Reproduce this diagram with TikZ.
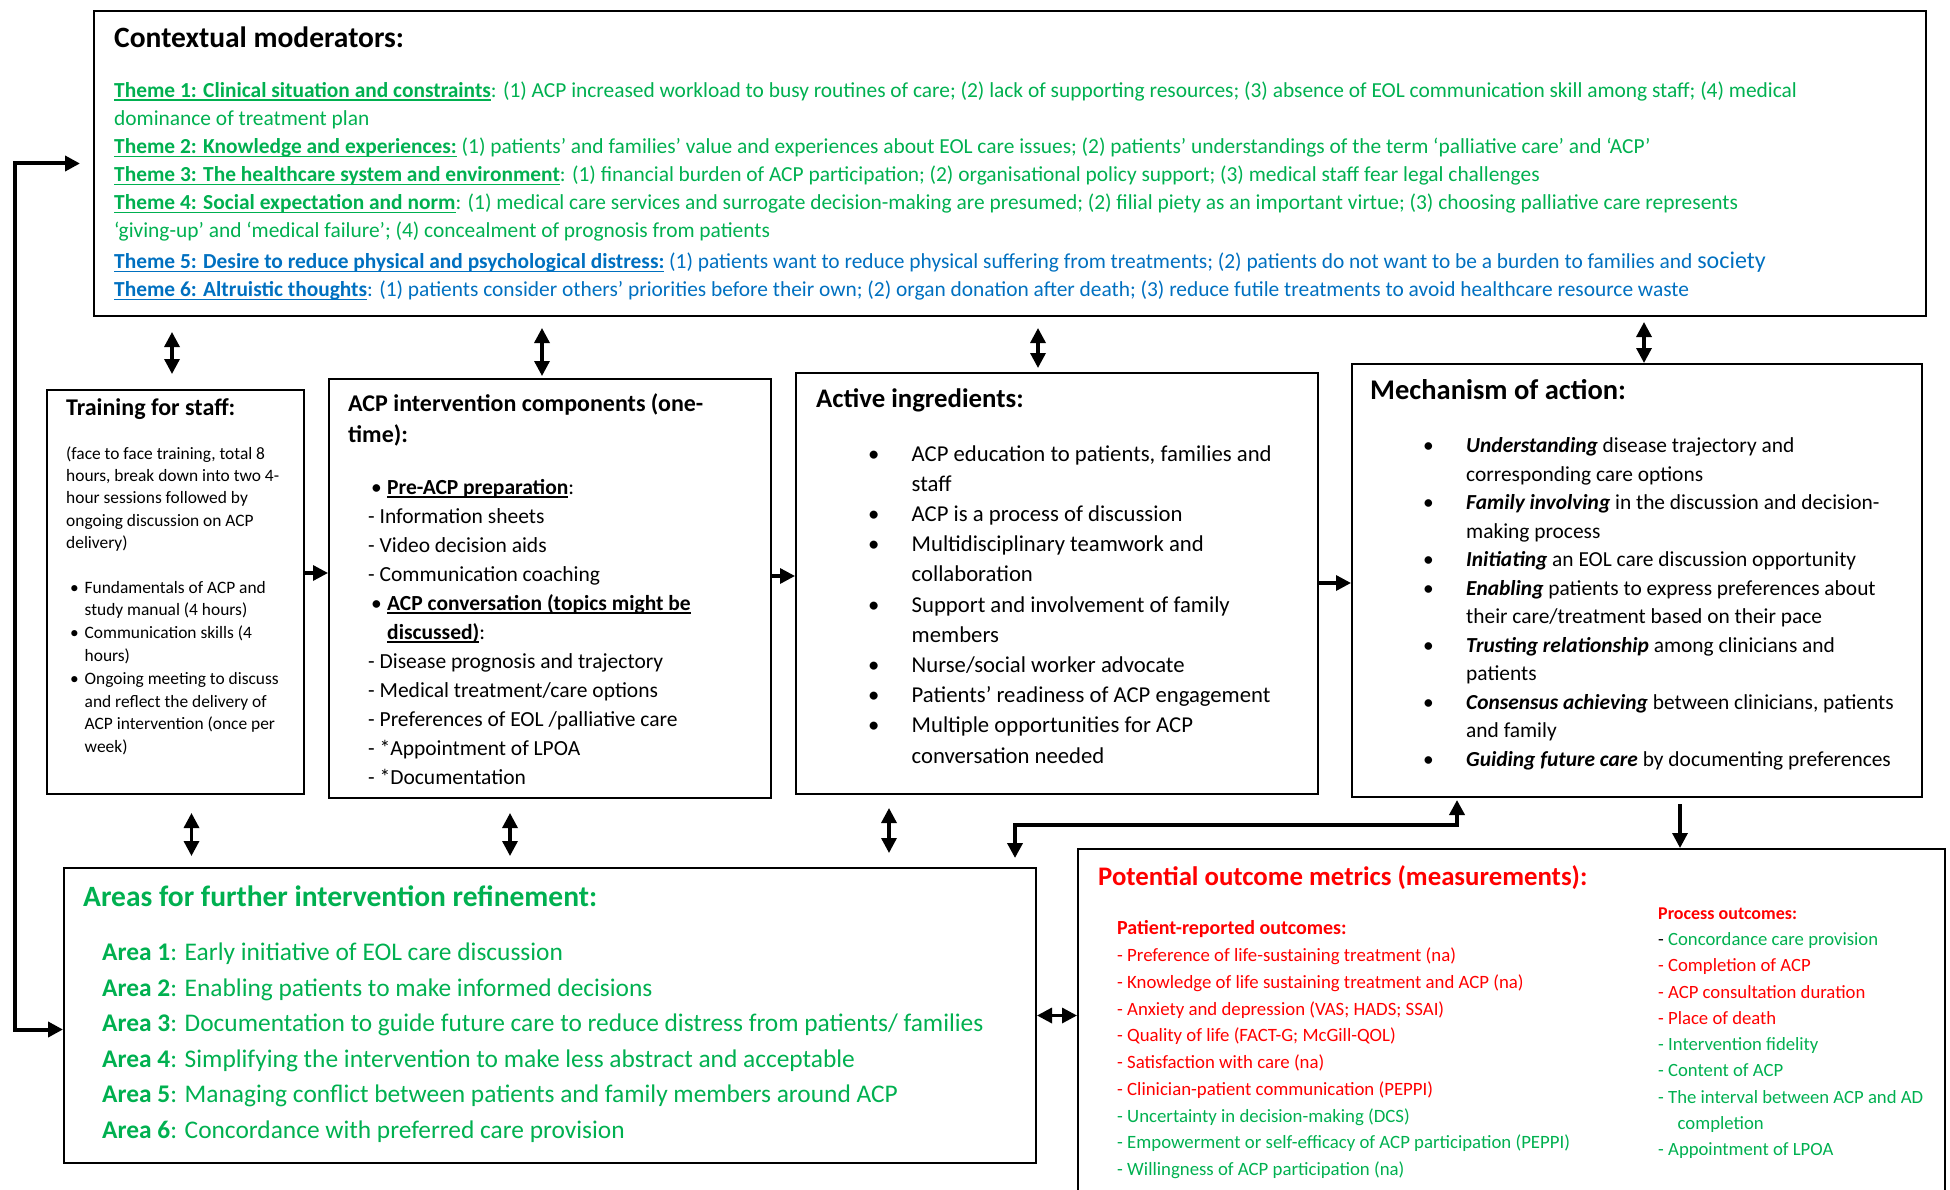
\documentclass[tikz,border=0pt]{standalone}
\usepackage{fontspec}
\setmainfont{Carlito}
\usetikzlibrary{arrows.meta,calc}
\definecolor{thmgreen}{RGB}{0,176,80}
\definecolor{thmblue}{RGB}{0,112,192}
\definecolor{outred}{RGB}{255,0,0}
\newcommand{\fsz}[2]{\fontsize{#1}{#2}\selectfont}
\newcommand{\bul}[1]{\makebox[#1][l]{\textbullet}}
\newcommand{\bi}[1]{\textbf{\textit{#1}}}
\newsavebox{\ulbox}
\newcommand{\ubf}[1]{\sbox{\ulbox}{\textbf{#1}}\rlap{\rule[-3.6pt]{\wd\ulbox}{1.6pt}}\usebox{\ulbox}}
\tikzset{
    panel/.style={
        rectangle,
        draw=black,
        line width=2pt,
        inner sep=0pt,
        anchor=north west,
    },
    txt/.style={
        anchor=base west,
        inner sep=0pt,
        align=left,
    },
    dbl/.style={
        {Triangle[length=15pt,width=15pt]}-{Triangle[length=15pt,width=15pt]},
        line width=3.3pt,
    },
    arr/.style={
        -{Triangle[length=15pt,width=15pt]},
        line width=3.3pt,
    },
  }

\begin{document}
\begin{tikzpicture}[x=1pt,y=-1pt]
  \useasboundingbox (0,0) rectangle (1950,1190);
  \clip (0,0) rectangle (1950,1190);

  % boxes
  \node[panel, minimum width=1832pt, minimum height=305pt] (ctx) at (93,10) {};
  \node[panel, minimum width=257pt, minimum height=404pt] (train) at (46,389) {};
  \node[panel, minimum width=442pt, minimum height=419pt] (acp) at (328,378) {};
  \node[panel, minimum width=522pt, minimum height=421pt] (active) at (795,372) {};
  \node[panel, minimum width=570pt, minimum height=433pt] (mech) at (1351,363) {};
  \node[panel, minimum width=972pt, minimum height=295pt] (areas) at (63,867) {};
  \node[panel, minimum width=867pt, minimum height=370pt] (outc) at (1077,848) {};

  % contextual moderators (multi-line texts sit on their last baseline)
  \node[txt, font=\fsz{29.5}{34}\bfseries] (ctxtitle) at (114,47.5) {Contextual moderators:};
  \node[txt, text=thmgreen, font=\fsz{21.4}{28}] (themes) at (114,296.5) {%
    \ubf{Theme 1: Clinical situation and constraints}: (1) ACP increased workload to busy routines of care; (2) lack of supporting resources; (3) absence of EOL communication skill among staff; (4) medical\\
    dominance of treatment plan\\
    \ubf{Theme 2: Knowledge and experiences:} (1) patients’ and families’ value and experiences about EOL care issues; (2) patients’ understandings of the term ‘palliative care’ and ‘ACP’\\
    \ubf{Theme 3: The healthcare system and environment}: (1) financial burden of ACP participation; (2) organisational policy support; (3) medical staff fear legal challenges\\
    \ubf{Theme 4: Social expectation and norm}: (1) medical care services and surrogate decision-making are presumed; (2) filial piety as an important virtue; (3) choosing palliative care represents\\
    ‘giving-up’ and ‘medical failure’; (4) concealment of prognosis from patients\\[3pt]
    \textcolor{thmblue}{\ubf{Theme 5: Desire to reduce physical and psychological distress:} (1) patients want to reduce physical suffering from treatments; (2) patients do not want to be a burden to families and {\fsz{24}{28}society}}\\
    \textcolor{thmblue}{\ubf{Theme 6: Altruistic thoughts}: (1) patients consider others’ priorities before their own; (2) organ donation after death; (3) reduce futile treatments to avoid healthcare resource waste}};

  % training for staff
  \node[txt, font=\fsz{24}{28}\bfseries] (traintitle) at (66,415) {Training for staff:};
  \node[txt, font=\fsz{17.4}{22.4}] (trainpara) at (66,548.6) {%
    (face to face training, total 8\\
    hours, break down into two 4-\\
    hour sessions followed by\\
    ongoing discussion on ACP\\
    delivery)};
  \node[txt, font=\fsz{17.4}{22.8}] (trainlist) at (70,752.6) {%
    \bul{14.5pt}Fundamentals of ACP and\\
    \hspace*{14.5pt}study manual (4 hours)\\
    \bul{14.5pt}Communication skills (4\\
    \hspace*{14.5pt}hours)\\
    \bul{14.5pt}Ongoing meeting to discuss\\
    \hspace*{14.5pt}and reflect the delivery of\\
    \hspace*{14.5pt}ACP intervention (once per\\
    \hspace*{14.5pt}week)};

  % intervention components
  \node[txt, font=\fsz{24}{31}\bfseries] (acptitle) at (348,442.5) {ACP intervention components (one-\\time):};
  \node[txt, font=\fsz{21.5}{29}] (acplist) at (368,784) {%
    \hspace*{3pt}\bul{16pt}\ubf{Pre-ACP preparation}:\\
    - Information sheets\\
    - Video decision aids\\
    - Communication coaching\\
    \hspace*{3pt}\bul{16pt}\ubf{ACP conversation (topics might be}\\
    \hspace*{19pt}\ubf{discussed)}:\\
    - Disease prognosis and trajectory\\
    - Medical treatment/care options\\
    - Preferences of EOL /palliative care\\
    - *Appointment of LPOA\\
    - *Documentation};

  % active ingredients
  \node[txt, font=\fsz{26.8}{30}\bfseries] (acttitle) at (816,407) {Active ingredients:};
  \node[txt, font=\fsz{22.7}{30.2}] (actlist) at (868,763) {%
    \bul{43.5pt}ACP education to patients, families and\\
    \hspace*{43.5pt}staff\\
    \bul{43.5pt}ACP is a process of discussion\\
    \bul{43.5pt}Multidisciplinary teamwork and\\
    \hspace*{43.5pt}collaboration\\
    \bul{43.5pt}Support and involvement of family\\
    \hspace*{43.5pt}members\\
    \bul{43.5pt}Nurse/social worker advocate\\
    \bul{43.5pt}Patients’ readiness of ACP engagement\\
    \bul{43.5pt}Multiple opportunities for ACP\\
    \hspace*{43.5pt}conversation needed};

  % mechanism of action
  \node[txt, font=\fsz{28.5}{32}\bfseries] (mechtitle) at (1370,399.5) {Mechanism of action:};
  \node[txt, font=\fsz{21.4}{28.5}] (mechlist) at (1423,766) {%
    \bul{43pt}\bi{Understanding} disease trajectory and\\
    \hspace*{43pt}corresponding care options\\
    \bul{43pt}\bi{Family involving} in the discussion and decision-\\
    \hspace*{43pt}making process\\
    \bul{43pt}\bi{Initiating} an EOL care discussion opportunity\\
    \bul{43pt}\bi{Enabling} patients to express preferences about\\
    \hspace*{43pt}their care/treatment based on their pace\\
    \bul{43pt}\bi{Trusting relationship} among clinicians and\\
    \hspace*{43pt}patients\\
    \bul{43pt}\bi{Consensus achieving} between clinicians, patients\\
    \hspace*{43pt}and family\\
    \bul{43pt}\bi{Guiding future care} by documenting preferences};

  % areas for refinement
  \node[txt, text=thmgreen, font=\fsz{29.5}{34}\bfseries] (areatitle) at (83,906) {Areas for further intervention refinement:};
  \node[txt, text=thmgreen, font=\fsz{25.4}{35.6}] (arealist) at (102,1138.5) {%
    \textbf{Area 1}: Early initiative of EOL care discussion\\
    \textbf{Area 2}: Enabling patients to make informed decisions\\
    \textbf{Area 3}: Documentation to guide future care to reduce distress from patients/ families\\
    \textbf{Area 4}: Simplifying the intervention to make less abstract and acceptable\\
    \textbf{Area 5}: Managing conflict between patients and family members around ACP\\
    \textbf{Area 6}: Concordance with preferred care provision};

  % outcome metrics
  \node[txt, text=outred, font=\fsz{26.8}{30}\bfseries] (outtitle) at (1098,885) {Potential outcome metrics (measurements):};
  \node[txt, text=outred, font=\fsz{20}{24}\bfseries] (prohead) at (1117,934) {Patient-reported outcomes:};
  \node[txt, font=\fsz{18.8}{26.75}] (prolist) at (1117,1175.5) {%
    \textcolor{outred}{- Preference of life-sustaining treatment (na)}\\
    \textcolor{outred}{- Knowledge of life sustaining treatment and ACP (na)}\\
    \textcolor{outred}{- Anxiety and depression (VAS; HADS; SSAI)}\\
    \textcolor{outred}{- Quality of life (FACT-G; McGill-QOL)}\\
    \textcolor{outred}{- Satisfaction with care (na)}\\
    \textcolor{outred}{- Clinician-patient communication (PEPPI)}\\
    \textcolor{thmgreen}{- Uncertainty in decision-making (DCS)}\\
    \textcolor{thmgreen}{- Empowerment or self-efficacy of ACP participation (PEPPI)}\\
    \textcolor{thmgreen}{- Willingness of ACP participation (na)}};
  \node[txt, text=outred, font=\fsz{18}{22}\bfseries] (prochead) at (1658,919) {Process outcomes:};
  \node[txt, font=\fsz{18.7}{26.25}] (proclist) at (1658,1155.5) {%
    - \textcolor{thmgreen}{Concordance care provision}\\
    \textcolor{outred}{- Completion of ACP}\\
    \textcolor{outred}{- ACP consultation duration}\\
    \textcolor{outred}{- Place of death}\\
    \textcolor{thmgreen}{- Intervention fidelity}\\
    \textcolor{thmgreen}{- Content of ACP}\\
    \textcolor{thmgreen}{- The interval between ACP and AD}\\
    \textcolor{thmgreen}{\hspace*{19.5pt}completion}\\
    \textcolor{thmgreen}{- Appointment of LPOA}};

  % arrow positions
  \coordinate (t1) at (172,0);
  \coordinate (t2) at (542,0);
  \coordinate (t3) at (1038,0);
  \coordinate (t4) at (1644,0);
  \coordinate (b1) at (191.5,0);
  \coordinate (b2) at (510,0);
  \coordinate (b3) at (889,0);
  \coordinate (eup) at (1015,0);
  \coordinate (elb) at (1457,825);
  \coordinate (dn) at (1680,0);
  \coordinate (fb) at (14.5,0);
  \coordinate (areaL) at ([yshift=-14pt]areas.west);

  % arrows
  \draw[dbl, shorten <=15pt, shorten >=15pt] (ctx.south -| t1) -- (train.north -| t1);
  \draw[dbl, shorten <=11pt, shorten >=2pt] (ctx.south -| t2) -- (acp.north -| t2);
  \draw[dbl, shorten <=11pt, shorten >=4pt] (ctx.south -| t3) -- (active.north -| t3);
  \draw[dbl, shorten <=5pt] (ctx.south -| t4) -- (mech.north -| t4);

  \draw[arr] (train.east |- 0,573) -- (acp.west |- 0,573);
  \draw[arr] (acp.east |- 0,576) -- (active.west |- 0,576);
  \draw[arr] (active.east |- 0,583) -- (mech.west |- 0,583);

  \draw[dbl, shorten <=18pt, shorten >=11pt] (train.south -| b1) -- (areas.north -| b1);
  \draw[dbl, shorten <=14pt, shorten >=11pt] (acp.south -| b2) -- (areas.north -| b2);
  \draw[dbl, shorten <=13pt, shorten >=14pt] (active.south -| b3) -- (areas.north -| b3);

  \draw[dbl, line width=3.6pt, shorten <=9pt, shorten >=2pt] (areas.north -| eup) |- (elb) -- (mech.south -| elb);
  \draw[arr, shorten <=6pt] (mech.south -| dn) -- (outc.north -| dn);
  \draw[dbl] (areas.east) -- (outc.west |- areas.east);

  \draw[dbl, line width=4pt, shorten <=13pt] (ctx.west) -| (fb |- areaL) -- (areaL);
\end{tikzpicture}
\end{document}
